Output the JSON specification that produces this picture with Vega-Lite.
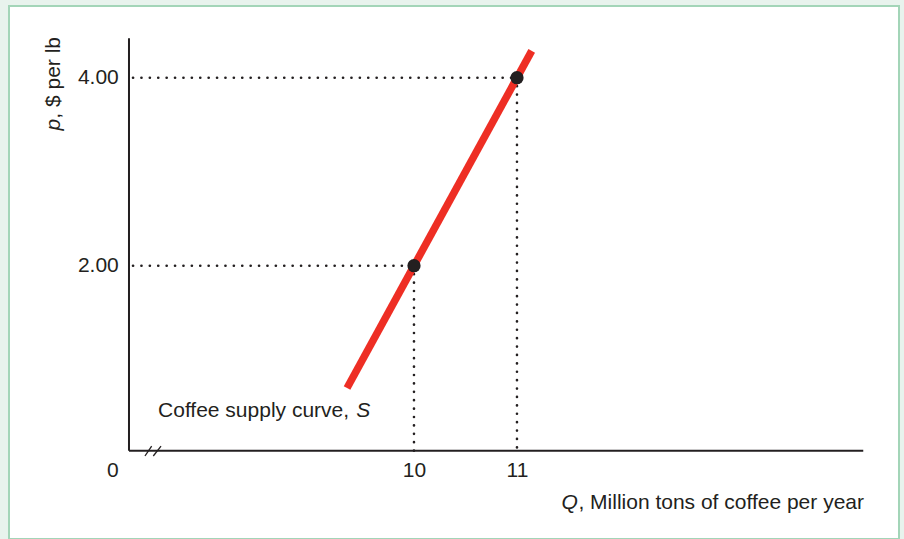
{
  "$schema": "https://vega.github.io/schema/vega-lite/v6.json",
  "autosize": {"type": "none"},
  "width": 890,
  "height": 533,
  "padding": {"left": 9, "top": 6, "right": 5, "bottom": 0},
  "background": "#e8f3ed",
  "config": {
    "view": {"fill": "white", "stroke": "#a3d5b8", "strokeWidth": 2},
    "text": {"font": "Liberation Sans", "fontSize": 21, "color": "#231f20"}
  },
  "encoding": {
    "x": {
      "field": "Q", "type": "quantitative",
      "scale": {"domain": [6.068, 14.709], "nice": false, "zero": false},
      "axis": {"values": [10, 11], "format": "d", "domain": false, "ticks": false, "grid": false, "title": null,
               "offset": -88.3, "labelPadding": 9, "labelFontSize": 21, "labelFont": "Liberation Sans", "labelColor": "#231f20", "labelFontWeight": "normal"}
    },
    "y": {
      "field": "p", "type": "quantitative",
      "scale": {"domain": [-0.907, 4.763], "nice": false, "zero": false},
      "axis": {"values": [2, 4], "format": ".2f", "domain": false, "ticks": false, "grid": false, "title": null,
               "offset": -120.3, "labelPadding": 11, "labelFontSize": 21, "labelFont": "Liberation Sans", "labelColor": "#231f20", "labelFontWeight": "normal"}
    }
  },
  "layer": [
    {
      "data": {"values": [
        {"Q": 7.272, "Q2": 10, "p": 2, "p2": 2},
        {"Q": 7.272, "Q2": 11, "p": 4, "p2": 4},
        {"Q": 10, "Q2": 10, "p": 2, "p2": 0.032},
        {"Q": 11, "Q2": 11, "p": 4, "p2": 0.032}
      ]},
      "mark": {"type": "rule", "color": "#231f20", "strokeWidth": 2.6, "strokeCap": "round", "strokeDash": [0.1, 8.3]},
      "encoding": {"x2": {"field": "Q2"}, "y2": {"field": "p2"}}
    },
    {
      "data": {"values": [
        {"Q": 7.233, "Q2": 14.362, "p": 0.032, "p2": 0.032},
        {"Q": 7.233, "Q2": 7.233, "p": 0.032, "p2": 4.419}
      ]},
      "mark": {"type": "rule", "color": "#231f20", "strokeWidth": 2},
      "encoding": {"x2": {"field": "Q2"}, "y2": {"field": "p2"}}
    },
    {
      "data": {"values": [
        {"Q": 7.388, "Q2": 7.453, "p": -0.024, "p2": 0.082},
        {"Q": 7.469, "Q2": 7.544, "p": -0.024, "p2": 0.082}
      ]},
      "mark": {"type": "rule", "color": "#231f20", "strokeWidth": 1.3},
      "encoding": {"x2": {"field": "Q2"}, "y2": {"field": "p2"}}
    },
    {
      "data": {"values": [
        {"Q": 9.35, "p": 0.70},
        {"Q": 11.143, "p": 4.286}
      ]},
      "mark": {"type": "line", "color": "#ee2e24", "strokeWidth": 7.5, "strokeCap": "butt"},
      "encoding": {}
    },
    {
      "data": {"values": [
        {"Q": 10, "p": 2},
        {"Q": 11, "p": 4}
      ]},
      "mark": {"type": "point", "filled": true, "opacity": 1, "size": 175, "color": "#231f20"},
      "encoding": {}
    },
    {
      "data": {"values": [{"Q": 7.515, "p": 0.396, "label": "Coffee supply curve,"}]},
      "mark": {"type": "text", "align": "left", "baseline": "alphabetic"},
      "encoding": {"text": {"field": "label"}}
    },
    {
      "data": {"values": [{"Q": 9.44, "p": 0.396, "label": "S"}]},
      "mark": {"type": "text", "align": "left", "baseline": "alphabetic", "fontStyle": "italic"},
      "encoding": {"text": {"field": "label"}}
    },
    {
      "data": {"values": [{"Q": 7.076, "p": -0.251, "label": "0"}]},
      "mark": {"type": "text", "align": "center", "baseline": "alphabetic"},
      "encoding": {"text": {"field": "label"}}
    },
    {
      "data": {"values": [{"Q": 14.369, "p": -0.588, "label": ", Million tons of coffee per year"}]},
      "mark": {"type": "text", "align": "right", "baseline": "alphabetic"},
      "encoding": {"text": {"field": "label"}}
    },
    {
      "data": {"values": [{"Q": 11.592, "p": -0.588, "label": "Q"}]},
      "mark": {"type": "text", "align": "right", "baseline": "alphabetic", "fontStyle": "italic"},
      "encoding": {"text": {"field": "label"}}
    },
    {
      "data": {"values": [{"Q": 6.563, "p": 3.564, "label": ", $ per lb"}]},
      "mark": {"type": "text", "align": "left", "baseline": "alphabetic", "angle": 270},
      "encoding": {"text": {"field": "label"}}
    },
    {
      "data": {"values": [{"Q": 6.563, "p": 3.439, "label": "p"}]},
      "mark": {"type": "text", "align": "left", "baseline": "alphabetic", "angle": 270, "fontStyle": "italic"},
      "encoding": {"text": {"field": "label"}}
    }
  ]
}
